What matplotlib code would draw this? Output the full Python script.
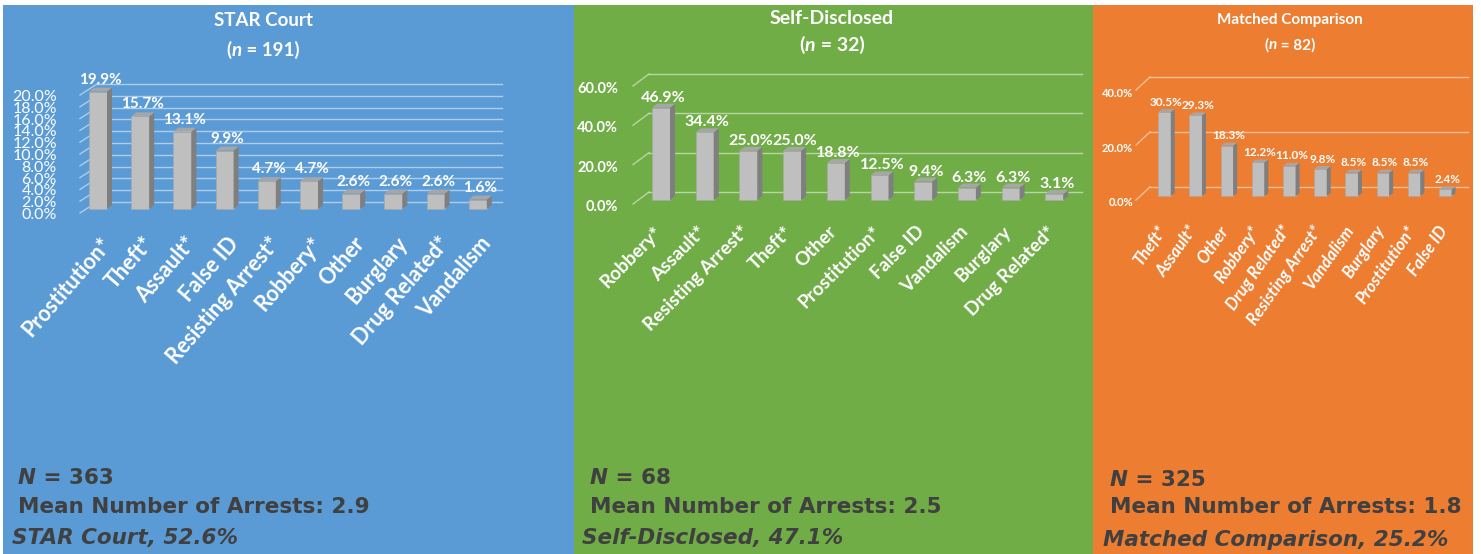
import matplotlib
matplotlib.use("Agg")
import matplotlib.pyplot as plt
from matplotlib.patches import Rectangle, Polygon
from matplotlib.offsetbox import TextArea, HPacker, AnnotationBbox

# ---------------- data ----------------
star_cats = ["Prostitution*", "Theft*", "Assault*", "False ID", "Resisting Arrest*",
             "Robbery*", "Other", "Burglary", "Drug Related*", "Vandalism"]
star_vals = [19.9, 15.7, 13.1, 9.9, 4.7, 4.7, 2.6, 2.6, 2.6, 1.6]
star_ticks = [0, 2, 4, 6, 8, 10, 12, 14, 16, 18, 20]

self_cats = ["Robbery*", "Assault*", "Resisting Arrest*", "Theft*", "Other",
             "Prostitution*", "False ID", "Vandalism", "Burglary", "Drug Related*"]
self_vals = [46.9, 34.4, 25.0, 25.0, 18.8, 12.5, 9.4, 6.3, 6.3, 3.1]
self_ticks = [0, 20, 40, 60]

match_cats = ["Theft*", "Assault*", "Other", "Robbery*", "Drug Related*",
              "Resisting Arrest*", "Vandalism", "Burglary", "Prostitution*", "False ID"]
match_vals = [30.5, 29.3, 18.3, 12.2, 11.0, 9.8, 8.5, 8.5, 8.5, 2.4]
match_ticks = [0, 20, 40]

titles = ["STAR Court", "Self-Disclosed", "Matched Comparison"]
n_small = ["191", "32", "82"]
n_big = ["363", "68", "325"]
mean_arrests = ["2.9", "2.5", "1.8"]
pct_labels = ["STAR Court, 52.6%", "Self-Disclosed, 47.1%", "Matched Comparison, 25.2%"]

# ---------------- layout ----------------
W, H, DPI = 1481, 554, 100
fig = plt.figure(figsize=(W / DPI, H / DPI), dpi=DPI, facecolor="white")


def fx(px):
    return px / W


def fy(py):
    return 1 - py / H


TXT = "#404040"
FONT = "Lato"
BOLD_FONT = "DejaVu Sans"

panels = [
    dict(bg="#5B9BD5", x0=3, x1=574, cats=star_cats, vals=star_vals, ticks=star_ticks,
         fl=80, fr=485, floor=213, ppy=5.9, c0=98, sp=42.2, bw=18,
         wall=(17, 11), boff=(6, 4), bdep=(5, 4),
         lab=(2, 20, 49, 15.5, "normal"), vgap=12, vsize=11,
         tgap=23, tdown=2, tsize=11.5, tweight="normal",
         title_x=263, title_y=(21, 50), title_size=13.5,
         bx=18, by=(478, 507, 538), bx2=12),
    dict(bg="#70AD47", x0=574, x1=1093, cats=self_cats, vals=self_vals, ticks=self_ticks,
         fl=633, fr=1066, floor=204, ppy=1.967, c0=661, sp=43.7, bw=18,
         wall=(16, 12), boff=(6, 4), bdep=(5, 4),
         lab=(-8, 19, 45, 13.5, "normal"), vgap=10, vsize=11.5,
         tgap=15, tdown=3, tsize=10.5, tweight="bold",
         title_x=832, title_y=(19, 45), title_size=14,
         bx=590, by=(478, 507, 538), bx2=582),
    dict(bg="#ED7D31", x0=1093, x1=1473, cats=match_cats, vals=match_vals, ticks=match_ticks,
         fl=1136, fr=1454, floor=200, ppy=2.75, c0=1164.5, sp=31.2, bw=12.5,
         wall=(14, 13), boff=(5, 4), bdep=(4, 3),
         lab=(-8, 23, 55, 12, "italic"), vgap=10, vsize=8.5,
         tgap=3, tdown=3, tsize=8, tweight="bold",
         title_x=1290, title_y=(20, 45), title_size=11,
         bx=1110, by=(480, 507, 540), bx2=1103),
]

for k, p in enumerate(panels):
    # background panel
    fig.patches.append(Rectangle((fx(p["x0"]), 0), fx(p["x1"] - p["x0"]), fy(5),
                                 transform=fig.transFigure, facecolor=p["bg"],
                                 edgecolor="none", zorder=-10))
    top_val = p["ticks"][-1]
    top_px = p["floor"] - p["ppy"] * top_val
    ax = fig.add_axes([fx(p["fl"]), fy(p["floor"]), fx(p["fr"] - p["fl"]),
                       (p["floor"] - top_px) / H])
    ax.set_axis_off()
    ax.set_zorder(5)
    ux = 1.0 / p["sp"]       # data-x per pixel
    uy = 1.0 / p["ppy"]      # data-y per pixel
    plane_c0 = p["c0"] - p["boff"][0]
    ax.set_xlim((p["fl"] - plane_c0) * ux, (p["fr"] - plane_c0) * ux)
    ax.set_ylim(0, top_val)
    xl0, xl1 = ax.get_xlim()
    wx, wy = p["wall"][0] * ux, p["wall"][1] * uy

    # gridlines on back wall + side-wall slants
    for v in p["ticks"]:
        ax.plot([xl0 + wx, xl1 + wx], [v + wy, v + wy], color="white", alpha=0.5,
                lw=1.0, clip_on=False, zorder=1)
        ax.plot([xl0, xl0 + wx], [v, v + wy], color="white", alpha=0.5,
                lw=1.0, clip_on=False, zorder=1)
        ax.text(xl0 - p["tgap"] * ux, v - p["tdown"] * uy, f"{v:.1f}%", ha="right",
                va="center", color="white", fontsize=p["tsize"], family=FONT,
                fontweight=p["tweight"], clip_on=False)

    # 3D-looking bars
    n = len(p["vals"])
    xs = list(range(n))
    bxo, byo = p["boff"][0] * ux, p["boff"][1] * uy
    bw = p["bw"] * ux
    dx, dy = p["bdep"][0] * ux, p["bdep"][1] * uy
    ax.bar([x + bxo for x in xs], p["vals"], width=bw, bottom=byo, color="#BFBFBF",
           edgecolor="#A8A8A8", linewidth=0.4, zorder=3, clip_on=False)
    for x, v in zip(xs, p["vals"]):
        xr = x + bxo + bw / 2
        xlft = x + bxo - bw / 2
        ytop = v + byo
        ax.add_patch(Polygon([(xr, byo), (xr + dx, byo + dy), (xr + dx, ytop + dy), (xr, ytop)],
                             closed=True, facecolor="#7F7F7F", edgecolor="none",
                             zorder=3, clip_on=False))
        ax.add_patch(Polygon([(xlft, ytop), (xr, ytop), (xr + dx, ytop + dy), (xlft + dx, ytop + dy)],
                             closed=True, facecolor="#A6A6A6", edgecolor="none",
                             zorder=3, clip_on=False))
        ax.text(x + bxo + dx / 2, ytop + p["vgap"] * uy, f"{v:.1f}%", ha="center",
                va="center", color="white", fontsize=p["vsize"], family=FONT,
                fontweight="bold", clip_on=False, zorder=4)

    # category labels
    lxo, lyo, rot, lsize, lstyle = p["lab"]
    for x, c in zip(xs, p["cats"]):
        ax.text(x + bxo + lxo * ux, -lyo * uy, c, ha="right", va="top",
                rotation=rot, rotation_mode="anchor", color="white",
                fontsize=lsize, family=FONT, fontweight="bold", fontstyle=lstyle,
                clip_on=False)

    # titles
    fig.text(fx(p["title_x"]), fy(p["title_y"][0]), titles[k], ha="center", va="center",
             color="white", fontsize=p["title_size"], family=FONT, fontweight="bold")
    tp = dict(color="white", fontsize=p["title_size"], family=FONT, fontweight="bold")
    tpi = dict(tp, fontstyle="italic")
    box = HPacker(children=[TextArea("(", textprops=tp), TextArea("n", textprops=tpi),
                            TextArea(f" = {n_small[k]})", textprops=tp)],
                  align="baseline", pad=0, sep=0)
    fig.add_artist(AnnotationBbox(box, (fx(p["title_x"]), fy(p["title_y"][1])),
                                  xycoords="figure fraction", frameon=False,
                                  box_alignment=(0.5, 0.5), pad=0))

    # bottom texts
    bp = dict(color=TXT, fontsize=15.5, family=BOLD_FONT, fontweight="bold")
    bpi = dict(bp, fontstyle="italic")
    box = HPacker(children=[TextArea("N", textprops=bpi),
                            TextArea(f" = {n_big[k]}", textprops=bp)],
                  align="baseline", pad=0, sep=0)
    fig.add_artist(AnnotationBbox(box, (fx(p["bx"]), fy(p["by"][0])),
                                  xycoords="figure fraction", frameon=False,
                                  box_alignment=(0, 0.5), pad=0))
    fig.text(fx(p["bx"]), fy(p["by"][1]), f"Mean Number of Arrests: {mean_arrests[k]}",
             ha="left", va="center", **bp)
    fig.text(fx(p["bx2"]), fy(p["by"][2]), pct_labels[k], ha="left", va="center", **bpi)

fig.savefig("out.png", dpi=DPI, facecolor="white")
